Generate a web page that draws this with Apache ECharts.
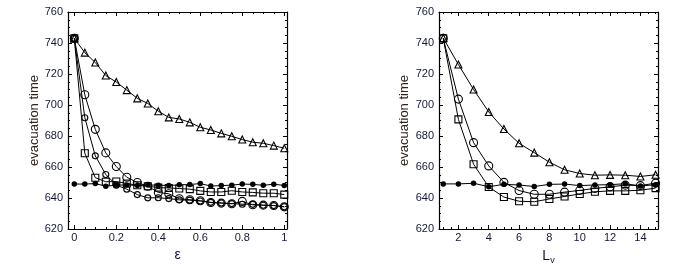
<!DOCTYPE html>
<html><head><meta charset="utf-8">
<script src="https://cdn.jsdelivr.net/npm/echarts@6/dist/echarts.min.js"></script>
<style>html,body{margin:0;padding:0;background:#fff}#c{width:682px;height:275px}</style>
</head><body><div id="c"></div>
<script>
// ---- data ----
const leftX = [0,0.05,0.1,0.15,0.2,0.25,0.3,0.35,0.4,0.45,0.5,0.55,0.6,0.65,0.7,0.75,0.8,0.85,0.9,0.95,1];
const leftTri = [743,733.8,727.4,719,714.8,709.6,704.3,701,696,692,691,688.8,685.6,683.9,681.7,679.8,677.7,676,675.3,673.8,672.1];
const leftDot = [649,649,649.3,647.6,648.3,648.4,648.1,648.4,648.3,648,648.5,648.7,649.3,647.7,648,648.3,649,648.8,648.2,648.9,648.1];
const leftSq = [743,668.9,653.1,650.5,650.6,649.4,648.2,647.6,646.7,646.5,646.1,645.7,644.6,643.9,643.9,644.7,643.9,643.6,643.1,643.1,642.2];
const leftCirc = [743,706.6,684.3,669.1,660.3,653.4,650,647.6,643.6,642.7,639.5,638.9,638.2,637.1,636.7,636.3,637.8,635.6,635.4,635.2,634.3];
const leftCirc2 = [743,691.8,667.2,655.2,648.3,645.7,642.2,640.1,640.2,639.6,638.8,638.6,638.1,637.2,636.8,636.4,636,635.9,635.3,635.1,634.4];

const rightX = [1,2,3,4,5,6,7,8,9,10,11,12,13,14,15];
const rightTri = [743.2,726.1,710,695.5,684.5,675.3,669.3,663.1,658.2,655.8,654.7,654.9,654.7,653.9,655];
const rightDot = [649.1,649.1,649.5,647.3,648.8,648.4,647.4,648.8,649,648,648.4,648.6,649.2,647.8,648.5];
const rightCirc = [743,703.8,675.7,660.7,650.1,644.8,642.4,642.4,643.8,644.9,646.2,647.2,648.3,648,649.6];
const rightSq = [743,690.7,661.8,647.1,640.6,637.9,637.6,639.4,641,642.6,644,644.6,644.6,645,646.4];

// ---- tick labels ----
const leftMajor = [0,0.2,0.4,0.6,0.8,1];
const leftMinor = [0.05,0.1,0.15,0.25,0.3,0.35,0.45,0.5,0.55,0.65,0.7,0.75,0.85,0.9,0.95];
const rightMajor = [2,4,6,8,10,12,14];
const rightMinor = [1,1.5,2.5,3,3.5,4.5,5,5.5,6.5,7,7.5,8.5,9,9.5,10.5,11,11.5,12.5,13,13.5,14.5,15];
const yLabel = 'evacuation time';

const FONT = '"Liberation Sans", Arial, sans-serif';
const LBL = '#141838';
const LINE = '#000';

function pair(arrX, arrY){ return arrX.map((x,i)=>[x, arrY[i]]); }

function xAxes(grid, min, max, major, minor, name, nameGap){
  const base = {type:'value', gridIndex:grid, min:min, max:max, splitLine:{show:false}};
  return [
    Object.assign({}, base, {
      position:'bottom',
      axisLine:{show:true, onZero:false, lineStyle:{color:LINE, width:1.2}},
      axisTick:{show:true, inside:true, length:4, customValues:major, lineStyle:{color:LINE}},
      axisLabel:{show:true, customValues:major, margin:3, fontSize:11, color:LBL, fontFamily:FONT},
      name:name, nameLocation:'middle', nameGap:nameGap,
      nameTextStyle:{fontSize:14, color:LBL, fontFamily:FONT,
        rich:{a:{fontSize:14, color:LBL, fontFamily:FONT, lineHeight:18},
              b:{fontSize:9, color:LBL, fontFamily:FONT, lineHeight:18, verticalAlign:'bottom', padding:[8,0,0,0]}}}
    }),
    Object.assign({}, base, {
      position:'bottom',
      axisLine:{show:false, onZero:false},
      axisTick:{show:true, inside:true, length:2, customValues:minor, lineStyle:{color:LINE}},
      axisLabel:{show:false, customValues:minor}
    }),
    Object.assign({}, base, {
      position:'top',
      axisLine:{show:true, onZero:false, lineStyle:{color:LINE, width:1.2}},
      axisTick:{show:true, inside:true, length:4, customValues:major, lineStyle:{color:LINE}},
      axisLabel:{show:false, customValues:major}
    }),
    Object.assign({}, base, {
      position:'top',
      axisLine:{show:false, onZero:false},
      axisTick:{show:true, inside:true, length:2, customValues:minor, lineStyle:{color:LINE}},
      axisLabel:{show:false, customValues:minor}
    })
  ];
}

function yAxes(grid, nameGap){
  const base = {type:'value', gridIndex:grid, min:620, max:760, interval:20, splitLine:{show:false},
    minorTick:{show:true, splitNumber:4, length:2, lineStyle:{color:LINE}}};
  return [
    Object.assign({}, base, {
      position:'left',
      axisLine:{show:true, onZero:false, lineStyle:{color:LINE, width:1.2}},
      axisTick:{show:true, inside:true, length:4, lineStyle:{color:LINE}},
      axisLabel:{show:true, margin:5, fontSize:11, color:LBL, fontFamily:FONT},
      name:yLabel, nameLocation:'middle', nameGap:nameGap,
      nameTextStyle:{fontSize:13, color:'#30241c', fontFamily:FONT}
    }),
    Object.assign({}, base, {
      position:'right',
      axisLine:{show:true, onZero:false, lineStyle:{color:LINE, width:1.2}},
      axisTick:{show:true, inside:true, length:4, lineStyle:{color:LINE}},
      axisLabel:{show:false}
    })
  ];
}

function ser(xi, yi, data, symbol, size, filled){
  return {
    type:'line', xAxisIndex:xi, yAxisIndex:yi, data:data,
    symbol:symbol, symbolSize:size, showSymbol:true, showAllSymbol:true,
    lineStyle:{color:LINE, width:1},
    itemStyle: filled ? {color:LINE, borderColor:LINE, borderWidth:0}
                      : {color:'rgba(255,255,255,0)', borderColor:LINE, borderWidth:1.1},
    emphasis:{disabled:true}, z:filled?3:4
  };
}

const chart = echarts.init(document.getElementById('c'), null, {renderer:'canvas'});
chart.setOption({
  animation:false,
  backgroundColor:'#fff',
  grid:[
    {left:68, top:12, width:219, height:217},
    {left:439, top:12, width:219, height:217}
  ],
  xAxis: [].concat(
    xAxes(0, -0.03, 1.013, leftMajor, leftMinor, 'ε', 13),
    xAxes(1, 0.72, 15.16, rightMajor, rightMinor, '{a|L}{b|v}', 12)
  ),
  yAxis: [].concat(yAxes(0, 24), yAxes(1, 28)),
  series:[
    ser(0,0,pair(leftX,leftDot),'circle',5.5,true),
    ser(0,0,pair(leftX,leftTri),'triangle',7,false),
    ser(0,0,pair(leftX,leftSq),'rect',7,false),
    ser(0,0,pair(leftX,leftCirc),'circle',8,false),
    ser(0,0,pair(leftX,leftCirc2),'circle',6,false),
    ser(4,2,pair(rightX,rightDot),'circle',5.5,true),
    ser(4,2,pair(rightX,rightTri),'triangle',7,false),
    ser(4,2,pair(rightX,rightCirc),'circle',8,false),
    ser(4,2,pair(rightX,rightSq),'rect',7,false)
  ]
});
</script></body></html>
